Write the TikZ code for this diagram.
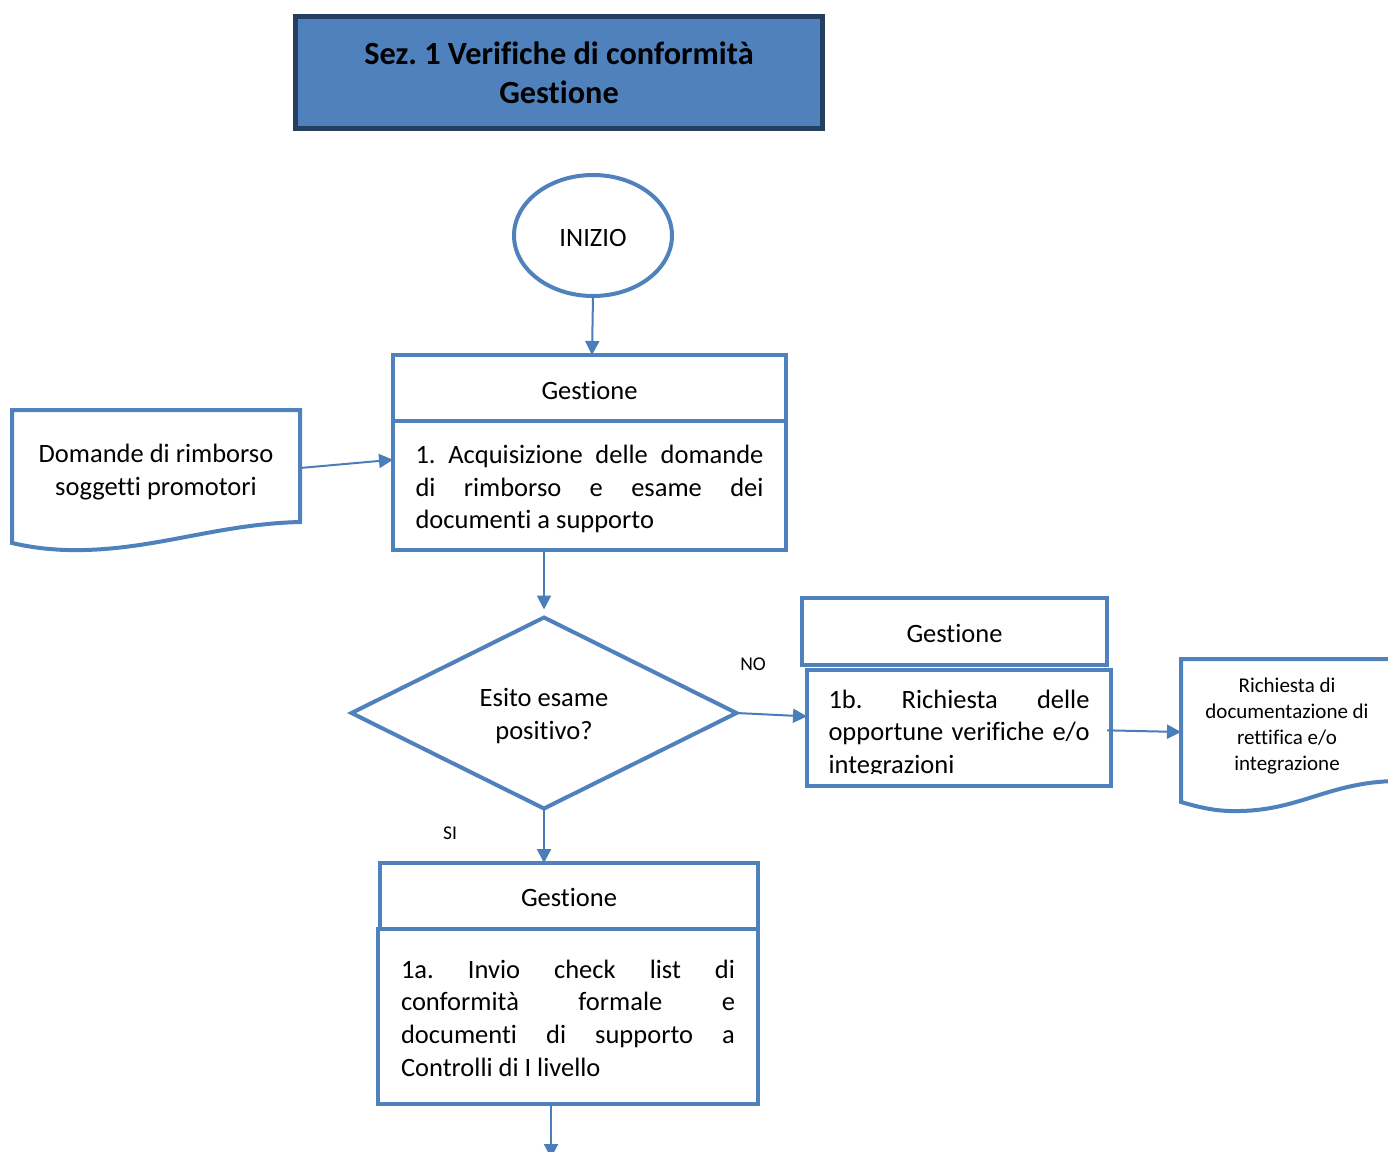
\documentclass[tikz,border=0pt]{standalone}
\usepackage{fontspec}
\setmainfont{Carlito}[Ligatures=NoCommon]
\usetikzlibrary{arrows.meta,shapes.geometric,calc}

\definecolor{boxblue}{HTML}{4F81BD}
\definecolor{linkblue}{HTML}{4A7EBB}
\definecolor{navy}{HTML}{243F60}

\newcommand\nohyph{\frenchspacing\hyphenpenalty=10000\relax\exhyphenpenalty=10000\relax}

\begin{document}
\frenchspacing
\begin{tikzpicture}[x=1pt,y=-1pt,
  frame/.style={draw=boxblue, line width=4pt, fill=white, inner sep=0pt, outer sep=0pt},
  conn/.style={draw=linkblue, line width=2pt, -{Triangle[length=14pt,width=14pt]}},
  bodyfont/.style={font=\fontsize{26.5}{32.7}\selectfont\nohyph},
  headfont/.style={font=\fontsize{26.5}{32.7}\selectfont},
  smallfont/.style={font=\fontsize{21}{26}\selectfont},
  lbl/.style={font=\fontsize{19.5}{22}\selectfont, inner sep=0pt},
  headtext/.style={headfont, inner sep=0pt},
  docshape/.style={draw=boxblue, line width=4pt, fill=white, line join=miter}]
\useasboundingbox (0,0) rectangle (1388,1151);

% section title
\node[draw=navy, line width=5pt, fill=boxblue, minimum width=527, minimum height=112,
      inner sep=0pt, align=center, font=\fontsize{32.3}{39}\selectfont\bfseries\frenchspacing]
      (title) at (559,72.5) {Sez. 1 Verifiche di conformità\\Gestione};

% start
\node[ellipse, frame, minimum width=158, minimum height=121] (inizio) at (593,235.5) {};
\node[headtext] (inizioText) at (593,237.5) {INIZIO};

% step 1
\node[frame, minimum width=393, minimum height=66] (g1h) at (589.5,388) {};
\node[headtext] (g1hText) at (589.5,390) {Gestione};
\node[frame, minimum width=393, minimum height=129] (g1b) at (589.5,485.5) {};
\node[bodyfont, text width=348, align=justify, inner sep=0pt] (t1) at (589.5,489)
      {1. Acquisizione delle domande\linebreak di rimborso e esame dei\linebreak documenti a supporto};

% input document
\path[docshape] (12,410) -- (300,410) -- (300,522)
   .. controls (220,524) and (160,548) .. (85,550)
   .. controls (50,551) and (25,546) .. (12,543) -- cycle;
\node[headfont, align=center, inner sep=0pt] (doc1) at (156,472) {Domande di rimborso\\soggetti promotori};
\coordinate (doc1out) at (300,468);

% decision
\node[diamond, frame, aspect=2, minimum width=385, minimum height=191] (dia) at (544,713) {};
\node[headfont, align=center, inner sep=0pt] (diatext) at (544,716) {Esito esame\\positivo?};

% step 1b
\node[frame, minimum width=305, minimum height=67] (g1bh) at (954.5,631.5) {};
\node[headtext] (g1bhText) at (954.5,633) {Gestione};
\node[frame, minimum width=304, minimum height=116] (g1bb) at (959,728) {};
\begin{scope}
  \clip (809,672) rectangle (1109,773);
  \node[bodyfont, text width=261, align=justify, inner sep=0pt] (t1b) at (959,734)
      {1b. Richiesta delle\linebreak opportune verifiche e/o\linebreak integrazioni};
\end{scope}

% output document
\path[docshape] (1181,659) -- (1396,659) -- (1396,781)
   .. controls (1330,782) and (1300,810) .. (1240,811)
   .. controls (1215,812) and (1195,806) .. (1181,802) -- cycle;
\node[smallfont, align=center, inner sep=0pt] (doc2) at (1287,726)
      {Richiesta di\\documentazione di\\rettifica e/o\\integrazione};
\coordinate (doc2in) at (1181,732);

% step 1a
\node[frame, minimum width=378, minimum height=66] (g1ah) at (569,896) {};
\node[headtext] (g1ahText) at (569,897.5) {Gestione};
\node[frame, minimum width=380, minimum height=175] (g1ab) at (568,1016.5) {};
\node[bodyfont, text width=334, align=justify, inner sep=0pt] (t1a) at (568,1018)
      {1a. Invio check list di\linebreak conformità formale e\linebreak documenti di supporto a\linebreak Controlli di I livello};
\coordinate (exit) at (551,1158);

% branch labels
\node[lbl] (no) at (753,664) {NO};
\node[lbl] (si) at (450,833) {SI};

% connectors
\draw[conn] (inizio.south) -- (g1h.north -| 592,0);
\draw[conn] (doc1out) -- ($(g1b.north west)!0.3!(g1b.south west)$);
\draw[conn, shorten >=8pt] (g1b.south -| dia.north) -- (dia.north);
\draw[conn] (dia.east) -- ($(g1bb.north west)!0.4!(g1bb.south west)$);
\draw[conn] ($(g1bb.north east)!0.52!(g1bb.south east)+(-4,0)$) -- (doc2in);
\draw[conn] (dia.south) -- (dia.south |- g1ah.north);
\draw[conn] (g1ab.south -| exit) -- (exit);
\end{tikzpicture}
\end{document}
